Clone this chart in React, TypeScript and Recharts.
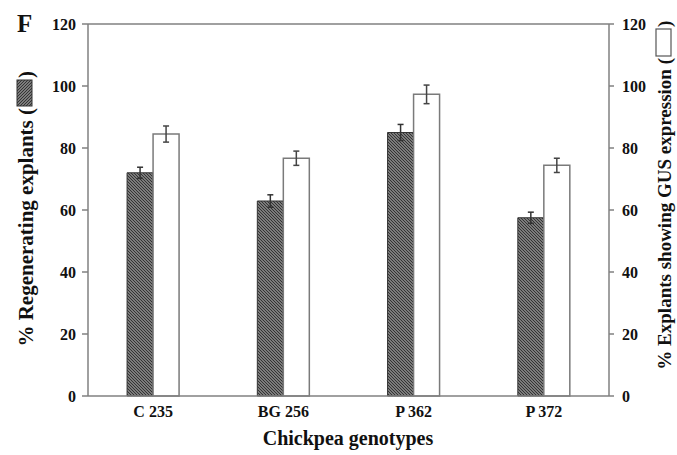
import { BarChart, Bar, XAxis, YAxis, ErrorBar, ReferenceLine } from 'recharts';

const genotypes = ['C 235', 'BG 256', 'P 362', 'P 372'];
const regenerating = [72.0, 62.9, 85.0, 57.5];
const regeneratingErr = [1.8, 2.0, 2.6, 1.8];
const gusExpression = [84.5, 76.7, 97.3, 74.4];
const gusExpressionErr = [2.6, 2.3, 3.0, 2.3];
const yTicks = [0, 20, 40, 60, 80, 100, 120];

const FONT = '"Liberation Serif", "Times New Roman", serif';
const AXIS = '#808080';

const data = genotypes.map((name, i) => ({
  name,
  regen: regenerating[i],
  regenErr: regeneratingErr[i],
  gus: gusExpression[i],
  gusErr: gusExpressionErr[i],
}));

const tickStyle = { fill: '#111', fontFamily: FONT, fontWeight: 700, fontSize: 16 };

export default function App() {
  return (
    <div style={{ position: 'absolute', left: 0, top: 0, width: 677, height: 455, background: '#fff' }}>
      <svg width={0} height={0} style={{ position: 'absolute' }}>
        <defs>
          <pattern id="hatch" width={3} height={3} patternUnits="userSpaceOnUse">
            <rect width={3} height={3} fill="#9a9a9a" />
            <path d="M0,0 L3,3 M-1,2 L1,4 M2,-1 L4,1" stroke="#2e2e2e" strokeWidth={1.1} />
          </pattern>
        </defs>
      </svg>

      <BarChart
        width={677}
        height={455}
        data={data}
        margin={{ top: 24, right: 0, bottom: 0, left: 0 }}
        barCategoryGap="30%"
        barGap={0}
      >
        <XAxis
          dataKey="name"
          height={59}
          tickLine={false}
          tickSize={0}
          tickMargin={10}
          stroke={AXIS}
          strokeWidth={1.5}
          tick={tickStyle}
        />
        <YAxis
          yAxisId="left"
          width={88}
          domain={[0, 120]}
          ticks={yTicks}
          tickSize={6}
          tickMargin={6}
          stroke={AXIS}
          strokeWidth={1.5}
          tick={tickStyle}
        />
        <YAxis
          yAxisId="right"
          orientation="right"
          width={68}
          domain={[0, 120]}
          ticks={yTicks}
          tickSize={5}
          tickMargin={8}
          stroke={AXIS}
          strokeWidth={1.5}
          tick={tickStyle}
        />
        <ReferenceLine yAxisId="left" y={120} stroke={AXIS} strokeWidth={1.5} />
        <Bar yAxisId="left" dataKey="regen" fill="url(#hatch)" stroke="#333" strokeWidth={1} isAnimationActive={false}>
          <ErrorBar dataKey="regenErr" direction="y" width={3} stroke="#333" strokeWidth={1.5} />
        </Bar>
        <Bar yAxisId="right" dataKey="gus" fill="#fff" stroke="#7a7a7a" strokeWidth={1.5} isAnimationActive={false}>
          <ErrorBar dataKey="gusErr" direction="y" width={3} stroke="#444" strokeWidth={1.5} />
        </Bar>
      </BarChart>

      <svg
        width={677}
        height={455}
        style={{ position: 'absolute', left: 0, top: 0, pointerEvents: 'none' }}
        fontFamily={FONT}
        fontWeight={700}
      >
        <text x={17} y={32} fontSize={25} fill="#111">F</text>

        {/* left axis title with hatched key */}
        <g transform="translate(33,0) rotate(-90)">
          <text x={-108} y={0} fontSize={21} textAnchor="end" fill="#111">% Regenerating explants (</text>
          <rect x={-106} y={-16} width={26} height={15} fill="url(#hatch)" stroke="#333" strokeWidth={1} />
          <text x={-78} y={0} fontSize={21} fill="#111">)</text>
        </g>

        {/* right axis title with open key */}
        <g transform="translate(671,0) rotate(-90)">
          <text x={-58} y={0} fontSize={19} textAnchor="end" fill="#111">% Explants showing GUS expression (</text>
          <rect x={-56} y={-15} width={27} height={15} fill="#fff" stroke="#555" strokeWidth={1.2} />
          <text x={-27} y={0} fontSize={19} fill="#111">)</text>
        </g>

        <text x={348} y={445} fontSize={20} textAnchor="middle" fill="#111">Chickpea genotypes</text>
      </svg>
    </div>
  );
}
